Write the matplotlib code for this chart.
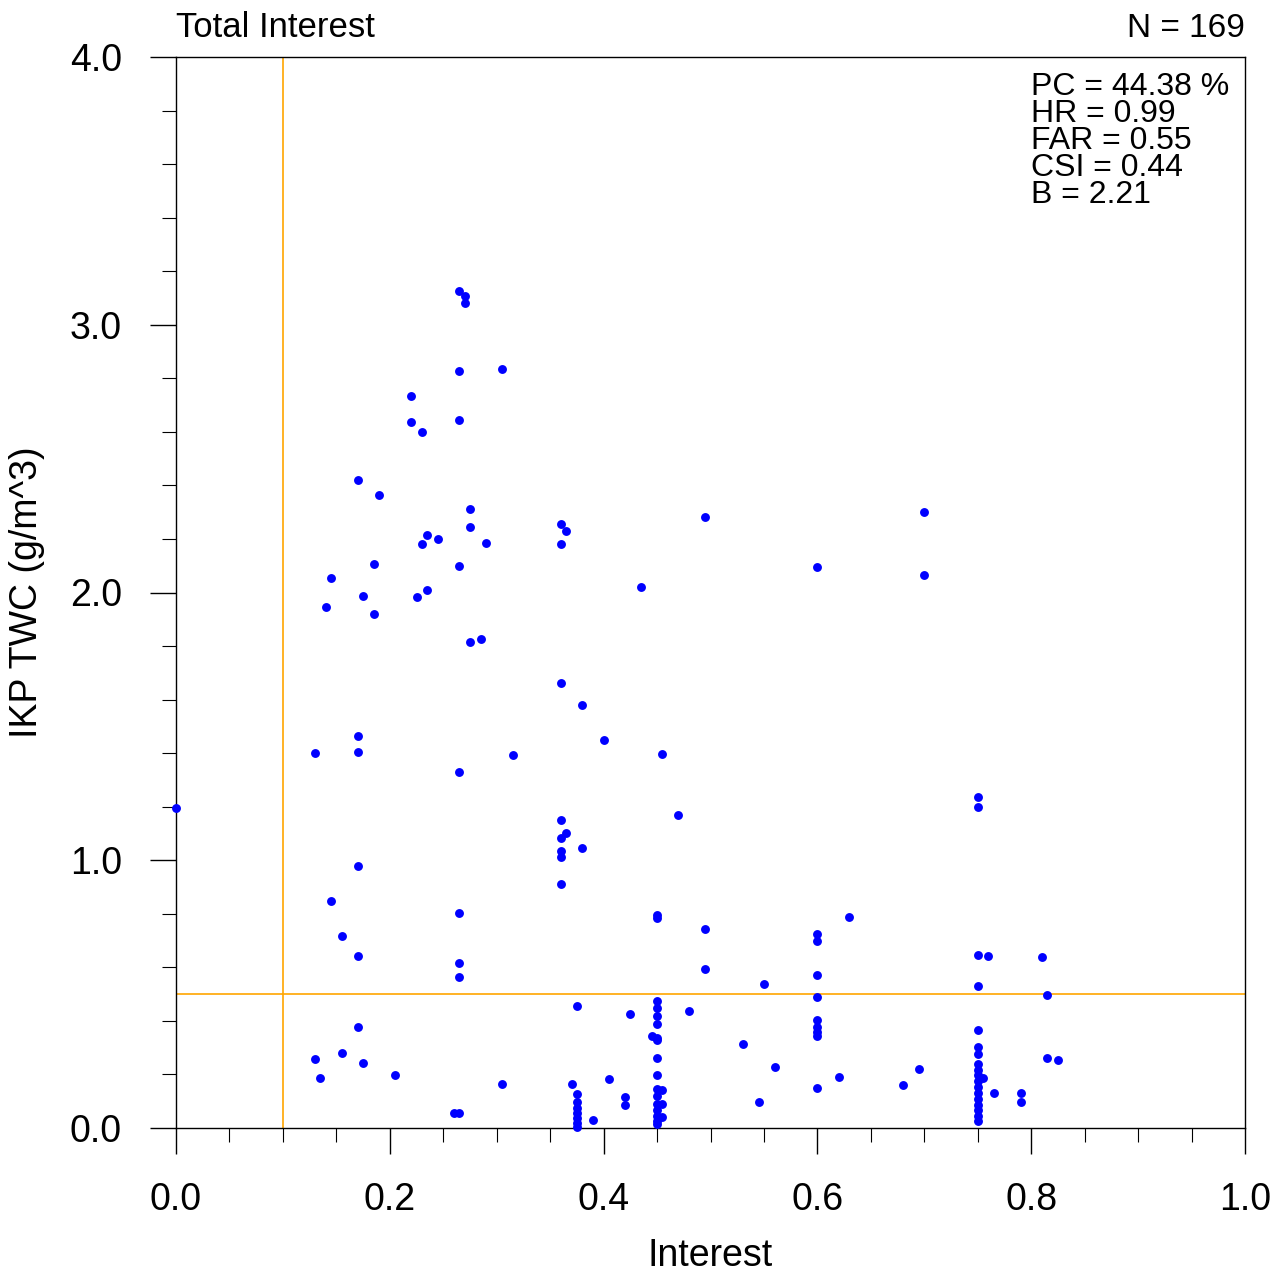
import matplotlib
matplotlib.use('Agg')
import matplotlib.pyplot as plt
import numpy as np
from matplotlib.ticker import MultipleLocator, FormatStrFormatter

plt.rcParams['font.family'] = ['Liberation Sans', 'DejaVu Sans']

# interest value (x) and IKP TWC in g/m^3 (y)
interest = [
    0.0,
    0.13, 0.13, 0.135, 0.14, 0.145, 0.145, 0.155, 0.155,
    0.17, 0.17, 0.17, 0.17, 0.17, 0.17, 0.175, 0.175,
    0.185, 0.185, 0.19, 0.205, 0.22, 0.22, 0.225, 0.23, 0.23,
    0.235, 0.235, 0.245, 0.26,
    0.265, 0.265, 0.265, 0.265, 0.265, 0.265, 0.265, 0.265, 0.265,
    0.27, 0.27, 0.275, 0.275, 0.275, 0.285, 0.29, 0.305, 0.305, 0.315,
    0.36, 0.36, 0.36, 0.36, 0.36, 0.36, 0.36, 0.36, 0.365, 0.365, 0.37,
    0.375, 0.375, 0.375, 0.375, 0.375, 0.375, 0.375, 0.375,
    0.38, 0.38, 0.39, 0.40, 0.405, 0.42, 0.42, 0.425, 0.435, 0.445,
    0.45, 0.45, 0.45, 0.45, 0.45, 0.45, 0.45, 0.45, 0.45, 0.45,
    0.45, 0.45, 0.45, 0.45, 0.45, 0.45, 0.45,
    0.455, 0.455, 0.455, 0.455, 0.47, 0.48, 0.495, 0.495, 0.495,
    0.53, 0.545, 0.55, 0.56,
    0.60, 0.60, 0.60, 0.60, 0.60, 0.60, 0.60, 0.60, 0.60, 0.60,
    0.62, 0.63, 0.68, 0.695, 0.70, 0.70,
    0.75, 0.75, 0.75, 0.75, 0.75, 0.75, 0.75, 0.75, 0.75, 0.75,
    0.75, 0.75, 0.75, 0.75, 0.75, 0.75, 0.75, 0.75,
    0.755, 0.76, 0.765, 0.79, 0.79, 0.81, 0.815, 0.815, 0.825,
]
twc = [
    1.195,
    1.40, 0.258, 0.187, 1.946, 2.054, 0.848, 0.717, 0.28,
    2.42, 1.464, 1.404, 0.978, 0.642, 0.377, 1.987, 0.243,
    2.106, 1.92, 2.364, 0.198, 2.734, 2.637, 1.983, 2.60, 2.18,
    2.215, 2.009, 2.20, 0.056,
    3.126, 2.827, 2.644, 2.099, 1.33, 0.803, 0.616, 0.564, 0.056,
    3.107, 3.08, 2.312, 2.245, 1.815, 1.826, 2.185, 2.835, 0.164, 1.393,
    2.256, 2.18, 1.662, 1.15, 1.083, 1.035, 1.012, 0.911, 2.23, 1.10, 0.164,
    0.456, 0.127, 0.097, 0.075, 0.056, 0.037, 0.018, 0.004,
    1.58, 1.046, 0.03, 1.449, 0.183, 0.116, 0.086, 0.426, 2.02, 0.344,
    0.795, 0.785, 0.474, 0.448, 0.418, 0.388, 0.336, 0.329, 0.261, 0.198,
    0.146, 0.119, 0.090, 0.067, 0.045, 0.026, 0.015,
    1.397, 0.142, 0.090, 0.041, 1.17, 0.437, 2.282, 0.743, 0.594,
    0.314, 0.097, 0.538, 0.228,
    2.095, 0.725, 0.698, 0.571, 0.489, 0.403, 0.377, 0.359, 0.344, 0.149,
    0.19, 0.788, 0.16, 0.22, 2.30, 2.065,
    1.236, 1.199, 0.646, 0.53, 0.366, 0.303, 0.276, 0.239, 0.217, 0.198,
    0.176, 0.153, 0.131, 0.108, 0.086, 0.067, 0.045, 0.026,
    0.187, 0.643, 0.131, 0.131, 0.097, 0.639, 0.497, 0.261, 0.254,
]

stats = ['PC = 44.38 %', 'HR = 0.99', 'FAR = 0.55', 'CSI = 0.44', 'B = 2.21']
interest_thresh = 0.1
twc_thresh = 0.5

fig = plt.figure(figsize=(12.76, 12.75), dpi=100)
ax = fig.add_axes([176/1276, 1 - 1128/1275, (1245 - 176)/1276, (1128 - 57)/1275])

ax.axvline(interest_thresh, color='#FFA500', lw=1.2, zorder=1)
ax.axhline(twc_thresh, color='#FFA500', lw=1.2, zorder=1)
ax.plot(interest, twc, linestyle='None', marker='o', ms=6.4, mec='none',
        color='#0000FF', clip_on=False, zorder=3)

ax.set_xlim(0, 1)
ax.set_ylim(0, 4)
ax.xaxis.set_major_locator(MultipleLocator(0.2))
ax.xaxis.set_minor_locator(MultipleLocator(0.05))
ax.yaxis.set_major_locator(MultipleLocator(1.0))
ax.yaxis.set_minor_locator(MultipleLocator(0.2))
ax.xaxis.set_major_formatter(FormatStrFormatter('%.1f'))
ax.yaxis.set_major_formatter(FormatStrFormatter('%.1f'))

ax.tick_params(which='major', direction='out', length=19, width=1.0,
               labelsize=27, pad=20)
ax.tick_params(which='minor', direction='out', length=10, width=0.8)
ax.tick_params(top=False, right=False, which='both')
for sp in ax.spines.values():
    sp.set_linewidth(1.0)

ax.set_xlabel('Interest', fontsize=27, labelpad=14)
ax.set_ylabel('IKP TWC (g/m^3)', fontsize=27, labelpad=18)

ax.text(0.0, 1.012, 'Total Interest', transform=ax.transAxes, fontsize=25,
        ha='left', va='bottom')
ax.text(1.0, 1.012, 'N = 169', transform=ax.transAxes, fontsize=24,
        ha='right', va='bottom')

# stats block as one text, lines set tight like the original
ax.text(0.8, 0.986, '\n'.join(stats), transform=ax.transAxes, fontsize=23,
        ha='left', va='top', linespacing=0.87)

fig.savefig('out.png', dpi=100)
